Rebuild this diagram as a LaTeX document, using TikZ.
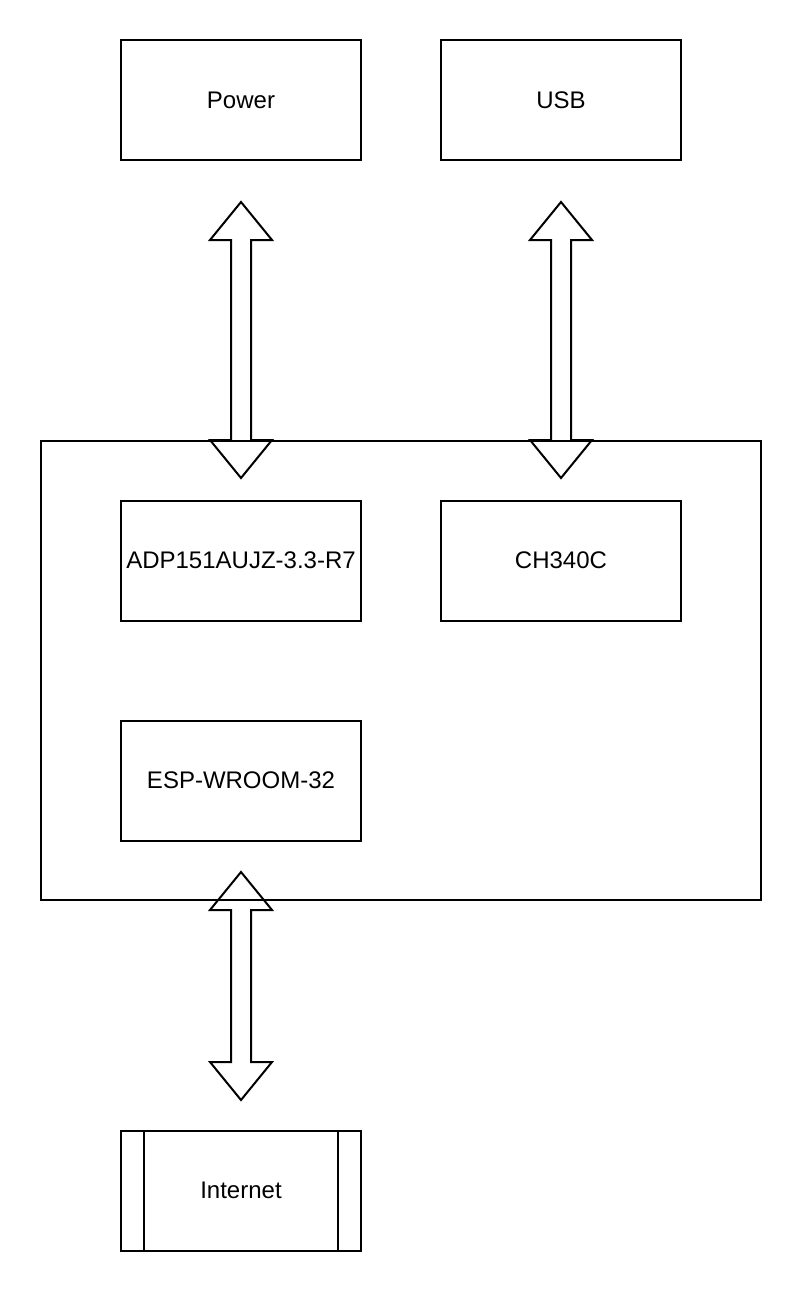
\documentclass[tikz,border=0pt]{standalone}
\usepackage{fontspec}
\setmainfont{Liberation Sans}
\begin{document}
\begin{tikzpicture}[x=1pt,y=-1pt,
  blk/.style={draw=black,line width=2pt,fill=white,minimum width=240pt,minimum height=120pt,inner sep=0pt,font=\fontsize{24}{28}\selectfont},
  dblarrow/.style={draw=black,line width=2pt,fill=white,line join=miter}]
\useasboundingbox (0,0) rectangle (802,1292);
% arrows (drawn first, container on top)
\newcommand{\dbarrow}[3]{%
  \draw[dblarrow] (#1,#2) -- (#1+31,#2+38) -- (#1+10,#2+38) -- (#1+10,#3-38) -- (#1+31,#3-38) -- (#1,#3) -- (#1-31,#3-38) -- (#1-10,#3-38) -- (#1-10,#2+38) -- (#1-31,#2+38) -- cycle;}
\dbarrow{241}{202}{478}
\dbarrow{561}{202}{478}
\dbarrow{241}{872}{1100}
% container
\node[draw=black,line width=2pt,minimum width=720pt,minimum height=459pt,inner sep=0pt] (board) at (401,670.5) {};
\node[blk] (power) at (241,100.5) {Power};
\node[blk] (usb) at (561,100.5) {USB};
\node[blk] (adp) at (241,560.5) {ADP151AUJZ-3.3-R7};
\node[blk] (ch) at (561,560.5) {CH340C};
\node[blk] (esp) at (241,780.5) {ESP-WROOM-32};
\node[blk] (inet) at (241,1190.5) {Internet};
\draw[line width=2pt] ([xshift=24pt]inet.north west) -- ([xshift=24pt]inet.south west);
\draw[line width=2pt] ([xshift=-24pt]inet.north east) -- ([xshift=-24pt]inet.south east);
\end{tikzpicture}
\end{document}
